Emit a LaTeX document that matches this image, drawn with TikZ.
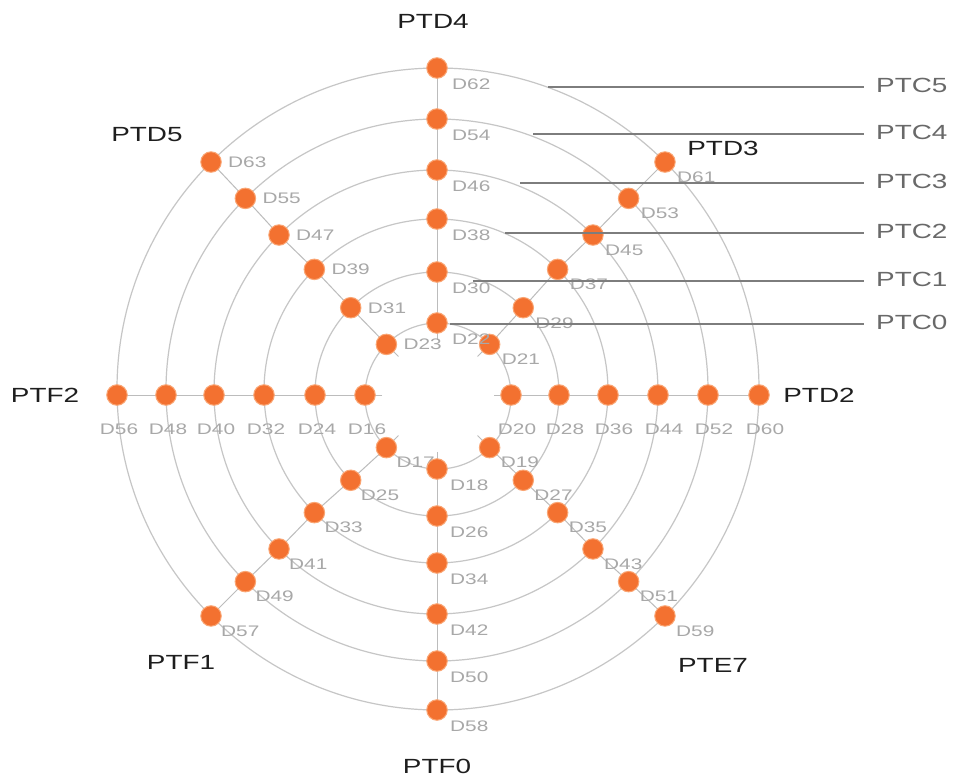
\documentclass[tikz,border=0pt]{standalone}
\usepackage{fontspec}
\setmainfont{Liberation Sans}[FakeStretch=1.36]
\usetikzlibrary{calc}

\definecolor{dotorange}{RGB}{243,113,48}
\definecolor{dothalo}{RGB}{250,165,115}
\definecolor{ringgray}{RGB}{198,198,198}
\definecolor{spokegray}{RGB}{188,188,188}
\definecolor{tickgray}{RGB}{125,125,125}
\definecolor{dlabgray}{RGB}{168,168,168}
\definecolor{ptcgray}{RGB}{105,105,105}
\definecolor{titleblack}{RGB}{30,30,30}

\begin{document}
\begin{tikzpicture}[x=1pt,y=-1pt,
  ring/.style={draw=ringgray, line width=1.2pt},
  spoke/.style={draw=spokegray, line width=1pt},
  dot/.style={circle, fill=dotorange, draw=dothalo, line width=1pt,
              minimum size=20.5pt, inner sep=0pt},
  dlab/.style={text=dlabgray, font=\fontsize{15.3}{17}\selectfont, inner sep=0pt},
  title/.style={text=titleblack, font=\fontsize{20.5}{24}\selectfont, inner sep=0pt},
  ptclab/.style={text=ptcgray, font=\fontsize{20.5}{24}\selectfont,
                 inner sep=0pt, anchor=west},
  ptcline/.style={draw=tickgray, line width=1.2pt}]
\useasboundingbox (0,0) rectangle (954,779);
\fill[white] (0,0) rectangle (954,779);

% axes of the horizontal and vertical spokes
\coordinate (H) at (0,395);
\coordinate (V) at (437,0);

% rings (each with its own centre) and the dots on the eight spokes:
% D(16+8k+j) sits on ring k, direction j at 180+45j degrees
\foreach \k/\cx/\cy/\r in {0/438/396/73, 1/437/394/122, 2/436/391/172,
                           3/436/392/222, 4/437/390/271, 5/438/389/321}{
  \coordinate (O\k) at (\cx,\cy);
  \draw[ring] (O\k) circle[radius=\r pt];
  \foreach \j in {0,...,7}{
    \pgfmathtruncatemacro\n{16+8*\k+\j}
    \pgfmathsetmacro\a{180+45*\j}
    \pgfmathtruncatemacro\h{mod(\j,4)}
    \coordinate (Q\n) at ($(O\k)+({\r*cos(\a)},{-\r*sin(\a)})$);
    \ifnum\h=0
      \coordinate (P\n) at (Q\n |- H);
    \else\ifnum\h=2
      \coordinate (P\n) at (V |- Q\n);
    \else
      \coordinate (P\n) at (Q\n);
    \fi\fi
  }
}

% spokes: short inner stub, then dot to dot outwards
\foreach \j in {0,...,7}{
  \pgfmathsetmacro\a{180+45*\j}
  \pgfmathtruncatemacro\m{16+\j}
  \coordinate (S\j) at ($(P\m)+({-17*cos(\a)},{17*sin(\a)})$);
  \draw[spoke] (S\j) -- (P\m);
  \foreach \k in {0,...,4}{
    \pgfmathtruncatemacro\n{16+8*\k+\j}
    \pgfmathtruncatemacro\p{24+8*\k+\j}
    \draw[spoke] (P\n) -- (P\p);
  }
}

% dots and their labels
\foreach \k in {0,...,5}{
  \foreach \j/\anc/\dx/\dy in {0/center/2/34, 1/west/10/15, 2/west/13/16,
      3/west/11/15, 4/center/6/34, 5/west/12/15, 6/west/15/16, 7/west/17/0}{
    \pgfmathtruncatemacro\n{16+8*\k+\j}
    \node[dot] (D\n) at (P\n) {};
    \node[dlab, anchor=\anc] (L\n) at ($(D\n)+(\dx,\dy)$) {D\n};
  }
}

% direction titles
\node[title] (ptd4) at (433,21)  {PTD4};
\node[title] (ptd5) at (147,135) {PTD5};
\node[title] (ptd3) at (723,148) {PTD3};
\node[title] (ptf2) at (45,395)  {PTF2};
\node[title] (ptd2) at (819,395) {PTD2};
\node[title] (ptf1) at (181,662) {PTF1};
\node[title] (ptf0) at (437,766) {PTF0};
\node[title] (pte7) at (713,665) {PTE7};

% ring callouts
\foreach \i/\xs/\ys in {0/450/324, 1/473/281, 2/505/233, 3/520/183, 4/533/134, 5/548/87}{
  \coordinate (c\i s) at (\xs,\ys);
  \coordinate (c\i e) at (864,\ys);
  \draw[ptcline] (c\i s) -- (c\i e);
  \node[ptclab] (ptc\i) at ($(c\i e)+(12,-2)$) {PTC\i};
}
\end{tikzpicture}
\end{document}
